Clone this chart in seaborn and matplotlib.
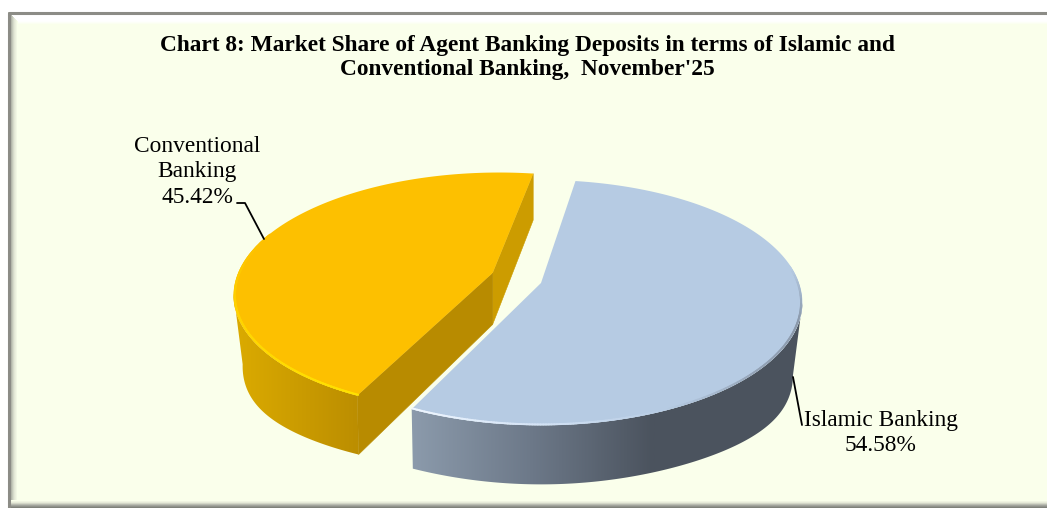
import numpy as np
import matplotlib
matplotlib.use("Agg")
import matplotlib.pyplot as plt
import seaborn as sns
from matplotlib.collections import LineCollection
from matplotlib.patches import Polygon

categories = ["Islamic Banking", "Conventional Banking"]
shares = [54.58, 45.42]
label_lines = [["Islamic Banking"], ["Conventional", "Banking"]]
title = "Chart 8: Market Share of Agent Banking Deposits in terms of Islamic and\nConventional Banking,  November'25"

# pie geometry, in pixels of the output image
CX, CY = 541, 283
RX, RY = 258, 119.5
PERSP = 0.16
START = 8.9
DEPTH = 52
EXPLODE = [(0.0, 0.0), (-0.19, 0.085)]
BG = "#faffeb"


def project(theta, ox, oy, r=1.0):
    x = r * np.sin(np.radians(theta)) + ox
    y = r * np.cos(np.radians(theta)) + oy
    w = 1 + PERSP * y
    return CX + RX * x / w, CY - RY * y / w


def apex(ox, oy):
    w = 1 + PERSP * oy
    return CX + RX * ox / w, CY - RY * oy / w


def lower(x, y, mid):
    # same point on the bottom face, the sides of the pie look a bit deeper
    u = (x - mid) / RX
    return x - 9 * u * u * u, y + DEPTH + 0.05 * (y - CY) + 18 * u ** 4


def draw_wall(ax, thetas, ox, oy, x0, x1, palette, z):
    thetas = thetas[np.cos(np.radians(thetas)) <= -0.16]
    x, y = project(thetas, ox, oy)
    xb, yb = lower(x, y, apex(ox, oy)[0])
    pts = np.r_[np.column_stack([x, y]), np.column_stack([xb, yb])[::-1]]
    # the gradient runs from x0 to x1, outside that the end colours hold
    im = ax.imshow(np.array(palette)[np.newaxis, :, :], extent=[x0, x1, 508, 0], aspect="auto",
                   interpolation="bilinear", zorder=z + 0.5)
    im.set_clip_path(Polygon(pts, transform=ax.transData))
    for xs, c in [([0, x0, x0, 0], palette[0]), ([x1, 1047, 1047, x1], palette[-1])]:
        patch = ax.fill(xs, [0, 0, 508, 508], color=c, lw=0, zorder=z)[0]
        patch.set_clip_path(Polygon(pts, transform=ax.transData))


def draw_cut(ax, p0, p1, mid, color):
    b0 = lower(p0[0], p0[1], mid)
    b1 = lower(p1[0], p1[1], mid)
    ax.fill([p0[0], p1[0], b1[0], b0[0]], [p0[1], p1[1], b1[1], b0[1]], color=color, lw=0.4, zorder=3)


def draw_rim(ax, thetas, ox, oy, palette, lw, z):
    x, y = project(thetas, ox, oy, r=0.995)
    pts = np.column_stack([x, y])
    segs = [pts[i:i + 2] for i in range(len(pts) - 1)]
    n = len(segs)
    cols = [palette[int(i / n * len(palette))] for i in range(n)]
    ax.add_collection(LineCollection(segs, colors=cols, linewidths=lw, capstyle="round", zorder=z))


sns.set_theme(style="white")
plt.rcParams["font.family"] = ["Liberation Serif", "DejaVu Serif"]

fig = plt.figure(figsize=(10.47, 5.08), dpi=100)
ax = fig.add_axes([0, 0, 1, 1])
ax.axis("off")

# panel with bevelled frame
ax.fill([8, 1047, 1047, 8], [12, 12, 508, 508], color=BG, lw=0, zorder=0)
top_band = sns.blend_palette(["#ffffff", "#ffffff", "#ffffff", BG], 11)
for i, c in enumerate(top_band):
    ax.fill([8, 1047, 1047, 8], [14 + i, 14 + i, 15 + i, 15 + i], color=c, lw=0, zorder=0)
left_band = sns.blend_palette(["#a3a69c", "#dfe3d2", BG], 8)
for i, c in enumerate(left_band):
    ax.fill([10 + i, 11 + i, 11 + i, 10 + i], [14 + i, 14 + i, 508, 508], color=c, lw=0, zorder=0)
bottom_band = sns.blend_palette([BG, "#e4e8d6", "#a8aaa2", "#7f817a"], 8)
for i, c in enumerate(bottom_band):
    ax.fill([8, 1047, 1047, 8], [500 + i, 500 + i, 501 + i, 501 + i], color=c, lw=0, zorder=0)
ax.plot([8.5, 8.5], [508, 12.5], color="#8c8c86", lw=2.2, zorder=0)
ax.plot([8.5, 1047], [12.5, 12.5], color="#8c8c86", lw=2.2, zorder=0)

# wedge angles come from the shares, clockwise from the start angle
sweeps = [s / sum(shares) * 360 for s in shares]
a0 = START
a1 = a0 + sweeps[0]
a2 = a1 + sweeps[1]
blue_t = np.linspace(a0, a1, 240)
yellow_t = np.linspace(a1, a2, 240)

# conventional banking slice
ox, oy = EXPLODE[1]
ya = apex(ox, oy)
draw_wall(ax, yellow_t, ox, oy, 242, 358, sns.blend_palette(["#d9a900", "#bc8e00"], 64), 1)
draw_cut(ax, project(a2, ox, oy), ya, ya[0], "#cc9c00")
draw_cut(ax, ya, project(a1, ox, oy), ya[0], "#b88b00")
x, y = project(yellow_t, ox, oy)
ax.fill(np.r_[ya[0], x], np.r_[ya[1], y], color="#fdc000", lw=0, zorder=4)
rim_t = np.linspace(a1, a1 + 85, 120)
draw_rim(ax, rim_t, ox, oy, sns.blend_palette(["#ffe100", "#ffd400", "#fdc000"], 32), 1.6, 5)

# islamic banking slice
ox, oy = EXPLODE[0]
ba = apex(ox, oy)
draw_wall(ax, blue_t, ox, oy, 412, 655, sns.blend_palette(["#8b9aab", "#6c7888", "#4b535e"], 64), 6)
x, y = project(blue_t, ox, oy)
ax.fill(np.r_[ba[0], x], np.r_[ba[1], y], color="#b6cbe3", lw=0, zorder=7)
rim_t = np.linspace(a1, 82, 240)
rim_colors = sns.blend_palette(["#eef6ff", "#d3e2f5", "#b6cbe3", "#94a3b6", "#8a98aa", "#b6cbe3"], 64)
draw_rim(ax, rim_t, ox, oy, rim_colors, 1.4, 8)

# labels and leader lines
ax.text(527, 57.5, title, ha="center", va="center", fontsize=16.85, fontweight="bold",
        color="black", linespacing=1.24, zorder=9)
ax.text(881, 433, f"{label_lines[0][0]}\n{shares[0]:.2f}%", ha="center", va="center",
        fontsize=16.8, color="black", linespacing=1.28, zorder=9)
ax.text(197, 172, f"{label_lines[1][0]}\n{label_lines[1][1]}\n{shares[1]:.2f}%", ha="center",
        va="center", fontsize=16.8, color="black", linespacing=1.28, zorder=9)
ax.plot([237, 245, 264], [203, 203, 239], color="black", lw=1.3, zorder=9)
ax.plot([793, 802], [377, 425], color="black", lw=1.3, zorder=9)

ax.set_xlim(0, 1047)
ax.set_ylim(508, 0)
fig.savefig("out.png", dpi=100, facecolor="white")
